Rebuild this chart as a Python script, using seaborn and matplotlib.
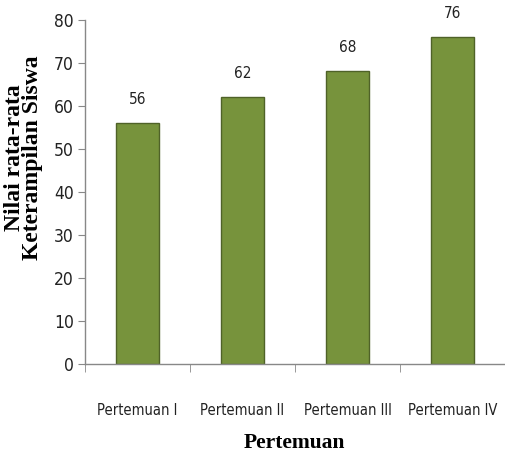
import numpy as np
import pandas as pd
import seaborn as sns
import matplotlib.pyplot as plt
from matplotlib import font_manager

# Nilai rata-rata keterampilan siswa per pertemuan
pertemuan = ['Pertemuan I', 'Pertemuan II', 'Pertemuan III', 'Pertemuan IV']
nilai = [56, 62, 68, 76]
yticks = [0, 10, 20, 30, 40, 50, 60, 70, 80]

df = pd.DataFrame({'pertemuan': pertemuan, 'nilai': nilai})

sns.set_style('white')
names = {f.name for f in font_manager.fontManager.ttflist}
narrow = 'Liberation Sans Narrow' if 'Liberation Sans Narrow' in names else 'DejaVu Sans'
plt.rcParams['font.family'] = [narrow, 'DejaVu Sans']
plt.rcParams['font.stretch'] = 'condensed'

fig = plt.figure(figsize=(5.05, 4.61), dpi=100)
ax = fig.add_axes([0.168, 0.21, 0.832, 0.747])

sns.barplot(data=df, x='pertemuan', y='nilai', color='#77933C', width=0.41,
            edgecolor='#4F6228', linewidth=1, saturation=1, ax=ax)

# label nilai di atas batang
for i, v in enumerate(nilai):
    ax.text(i, v + 3.8, str(v), ha='center', va='bottom', fontsize=11,
            color='#222222', fontstretch='condensed')

ax.set_xlim(-0.5, 3.5)
ax.set_ylim(0, 80)
ax.set_yticks(yticks)
ax.tick_params(axis='y', labelsize=12.5, length=5, direction='out', left=True,
               color='#888888', labelcolor='#222222', pad=3)

# tick di antara kategori, label di tengah tanpa tick
ax.set_xticks(np.arange(len(pertemuan)))
ax.set_xticklabels(pertemuan)
ax.set_xticks(np.arange(-0.5, len(pertemuan)), minor=True)
ax.tick_params(axis='x', which='major', length=0, pad=28, labelsize=10.5, labelcolor='#222222')
ax.tick_params(axis='x', which='minor', length=6, direction='out', bottom=True, color='#888888')

for s in ['top', 'right']:
    ax.spines[s].set_visible(False)
for s in ['left', 'bottom']:
    ax.spines[s].set_color('#888888')
    ax.spines[s].set_linewidth(1)

serif = ['Liberation Serif', 'DejaVu Serif']
ax.set_xlabel('Pertemuan', family=serif, weight='bold', size=15.5, fontstretch='normal',
              color='black')
ax.xaxis.set_label_coords(0.5, -0.2)
ax.set_ylabel('Nilai rata-rata\nKeterampilan Siswa', family=serif, weight='bold',
              size=17, linespacing=0.82, fontstretch='normal', color='black')
ax.yaxis.set_label_coords(-0.1, 0.6)

plt.savefig('out.png', dpi=100)
